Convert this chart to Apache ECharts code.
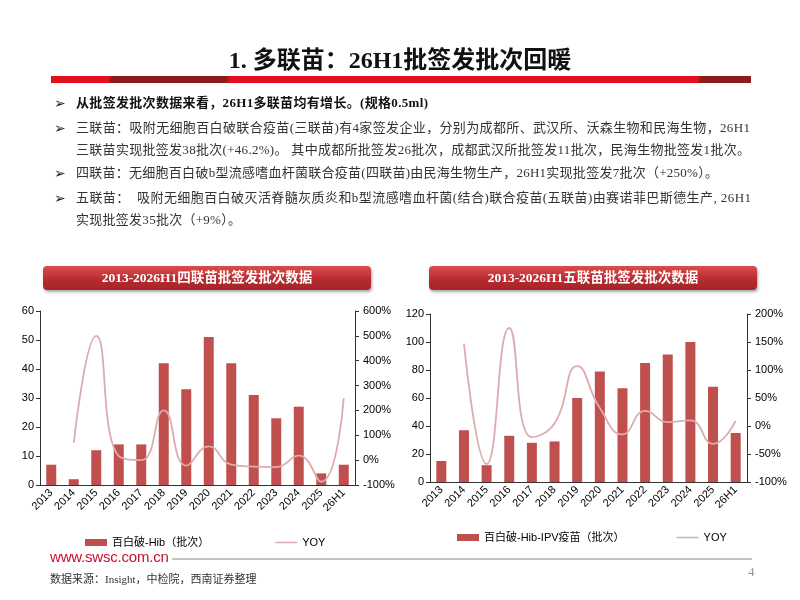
<!DOCTYPE html>
<html>
<head>
<meta charset="utf-8">
<script src="https://cdn.jsdelivr.net/npm/echarts@6/dist/echarts.min.js"></script>
<style>
  html, body { margin: 0; padding: 0; background: #fff; }
  #page { position: relative; width: 800px; height: 600px; overflow: hidden; }
  #chart { position: absolute; left: 0; top: 0; width: 800px; height: 600px; }
  .txt { position: absolute; z-index: 2; font-family: "Liberation Serif", "Noto Sans CJK SC", serif; white-space: nowrap; }
  .title { left: 0; width: 800px; top: 40px; text-align: center; font-size: 24px; font-weight: bold; color: #111; }
  .rule { position: absolute; z-index: 2; left: 51px; top: 76px; width: 700px; height: 7px;
    background: linear-gradient(100deg, #e3101d 0, #e3101d 8.2%, #8e1b1b 8.8%, #8e1b1b 25%, #e3101d 25.6%, #e3101d 92.2%, #8e1b1b 92.8%, #8e1b1b 100%); }
  .line { font-size: 13px; color: #333; left: 76px; height: 18px; line-height: 18px; }
  .bullet { position: absolute; z-index: 2; left: 54px; font-family: "DejaVu Sans", sans-serif; font-size: 14px; color: #222; height: 18px; line-height: 18px; }
  .box { position: absolute; z-index: 2; top: 266px; height: 24px; line-height: 24px; text-align: center; color: #fff;
    font-family: "Liberation Serif", "Noto Sans CJK SC", serif; font-weight: bold; font-size: 13.5px;
    border-radius: 4px; background: linear-gradient(#dc4c4f, #b52a2e 60%, #a3262a);
    box-shadow: 1px 2px 3px rgba(0,0,0,0.35); }
  .web { position: absolute; z-index: 2; left: 50px; top: 548px; font-family: "Liberation Sans", sans-serif; font-size: 15px; color: #c8102e; letter-spacing: -0.2px; }
  .grayline { position: absolute; z-index: 2; left: 172px; top: 558px; width: 580px; height: 2px; background: #c4c4c4; }
  .src { font-size: 11px; color: #333; left: 50px; top: 570px; }
  .pno { font-size: 13px; color: #999; left: 748px; top: 564px; }
</style>
</head>
<body>
<div id="page">
  <div id="chart"></div>
  <div class="txt title">1. 多联苗：26H1批签发批次回暖</div>
  <div class="rule"></div>

  <div class="bullet" style="top:94px">➢</div>
  <div class="txt line fit" data-w="352" style="top:94px;font-weight:bold;color:#111">从批签发批次数据来看，26H1多联苗均有增长。(规格0.5ml)</div>
  <div class="bullet" style="top:119px">➢</div>
  <div class="txt line fit" data-w="674" style="top:119px">三联苗：吸附无细胞百白破联合疫苗(三联苗)有4家签发企业，分别为成都所、武汉所、沃森生物和民海生物，26H1</div>
  <div class="txt line fit" data-w="674" style="top:141px">三联苗实现批签发38批次(+46.2%)。 其中成都所批签发26批次，成都武汉所批签发11批次，民海生物批签发1批次。</div>
  <div class="bullet" style="top:164px">➢</div>
  <div class="txt line fit" data-w="642" style="top:164px">四联苗：无细胞百白破b型流感嗜血杆菌联合疫苗(四联苗)由民海生物生产，26H1实现批签发7批次（+250%）。</div>
  <div class="bullet" style="top:189px">➢</div>
  <div class="txt line fit" data-w="675" style="top:189px">五联苗：&nbsp;&nbsp;吸附无细胞百白破灭活脊髓灰质炎和b型流感嗜血杆菌(结合)联合疫苗(五联苗)由赛诺菲巴斯德生产, 26H1</div>
  <div class="txt line fit" data-w="165" style="top:211px">实现批签发35批次（+9%）。</div>

  <div class="box" style="left:43px;width:328px">2013-2026H1四联苗批签发批次数据</div>
  <div class="box" style="left:429px;width:328px">2013-2026H1五联苗批签发批次数据</div>

  <div class="web">www.swsc.com.cn</div>
  <div class="grayline"></div>
  <div class="txt src">数据来源：Insight，中检院，西南证券整理</div>
  <div class="txt pno">4</div>
</div>
<script>
  // categories shared by both charts
  const years = ['2013', '2014', '2015', '2016', '2017', '2018', '2019', '2020', '2021', '2022', '2023', '2024', '2025', '26H1'];

  // 四联苗 (百白破-Hib) batches and yoy %
  const hibBatches = [7, 2, 12, 14, 14, 42, 33, 51, 42, 31, 23, 27, 4, 7];
  const hibYoy = [null, 70, 500, 16, 0, 200, -22, 55, -18, -26, -28, 18, -87, 250];

  // 五联苗 (百白破-Hib-IPV) batches and yoy %
  const ipvBatches = [15, 37, 12, 33, 28, 29, 60, 79, 67, 85, 91, 100, 68, 35];
  const ipvYoy = [null, 147, -68, 175, -20, 5, 107, 32, -15, 27, 7, 10, -32, 9];

  // stretch the text lines to the widths they have in the slide
  document.querySelectorAll('.fit').forEach(el => {
    const target = +el.dataset.w;
    const n = el.textContent.length;
    const w = el.getBoundingClientRect().width;
    el.style.letterSpacing = ((target - w) / (n - 1)).toFixed(3) + 'px';
  });

  const barColor = '#c0504d';
  const lineColor = '#dcaab0';
  const axisColor = '#333';
  const labelFont = { color: '#000', fontSize: 11, fontFamily: 'Liberation Sans, Arial, sans-serif' };
  // thin line legend icon (slivers at top/bottom keep the box 22x7)
  const lineIcon = 'path://M0,0H22V0.01H0Z M0,2.7H22V4.3H0Z M0,7H22V7.01H0Z';

  const chart = echarts.init(document.getElementById('chart'));

  const xAxisFor = (gridIndex) => ({
    type: 'category',
    gridIndex: gridIndex,
    data: years,
    axisLine: { lineStyle: { color: axisColor } },
    axisTick: { length: 4, lineStyle: { color: axisColor } },
    axisLabel: Object.assign({ rotate: 45, margin: 6, interval: 0 }, labelFont)
  });

  const yAxisFor = (gridIndex, min, max, interval, pct) => ({
    type: 'value',
    gridIndex: gridIndex,
    min: min,
    max: max,
    interval: interval,
    position: pct ? 'right' : 'left',
    splitLine: { show: false },
    axisLine: { show: true, lineStyle: { color: axisColor } },
    axisTick: { show: true, length: 4, lineStyle: { color: axisColor } },
    axisLabel: Object.assign({ margin: pct ? 8 : 6, formatter: pct ? '{value}%' : '{value}' }, labelFont)
  });

  const legendText = { color: '#000', fontSize: 11, fontFamily: 'Liberation Sans, Noto Sans CJK SC, sans-serif' };

  const option = {
    animation: false,
    grid: [
      { left: 40, right: 445, top: 311, bottom: 115 },
      { left: 430, right: 53, top: 314, bottom: 118 }
    ],
    xAxis: [xAxisFor(0), xAxisFor(1)],
    yAxis: [
      yAxisFor(0, 0, 60, 10, false),
      yAxisFor(0, -100, 600, 100, true),
      yAxisFor(1, 0, 120, 20, false),
      yAxisFor(1, -100, 200, 50, true)
    ],
    legend: [
      {
        left: 80, top: 532, itemWidth: 22, itemHeight: 7, itemGap: 66,
        data: [{ name: '百白破-Hib（批次）', icon: 'rect' }, { name: 'YOY', icon: lineIcon }],
        textStyle: legendText
      },
      {
        left: 452, top: 527, itemWidth: 22, itemHeight: 7, itemGap: 52,
        data: [{ name: '百白破-Hib-IPV疫苗（批次）', icon: 'rect' }, { name: 'YOY', icon: lineIcon }],
        textStyle: legendText
      }
    ],
    series: [
      {
        name: '百白破-Hib（批次）', type: 'bar', xAxisIndex: 0, yAxisIndex: 0,
        data: hibBatches, barWidth: 10, itemStyle: { color: barColor }
      },
      {
        name: 'YOY', type: 'line', xAxisIndex: 0, yAxisIndex: 1,
        data: hibYoy, smooth: 0.5, symbol: 'none',
        lineStyle: { color: lineColor, width: 1.8 }, itemStyle: { color: lineColor }
      },
      {
        name: '百白破-Hib-IPV疫苗（批次）', type: 'bar', xAxisIndex: 1, yAxisIndex: 2,
        data: ipvBatches, barWidth: 10, itemStyle: { color: barColor }
      },
      {
        name: 'YOY', type: 'line', xAxisIndex: 1, yAxisIndex: 3,
        data: ipvYoy, smooth: 0.5, symbol: 'none',
        lineStyle: { color: lineColor, width: 1.8 }, itemStyle: { color: lineColor }
      }
    ]
  };

  chart.setOption(option);
</script>
</body>
</html>
